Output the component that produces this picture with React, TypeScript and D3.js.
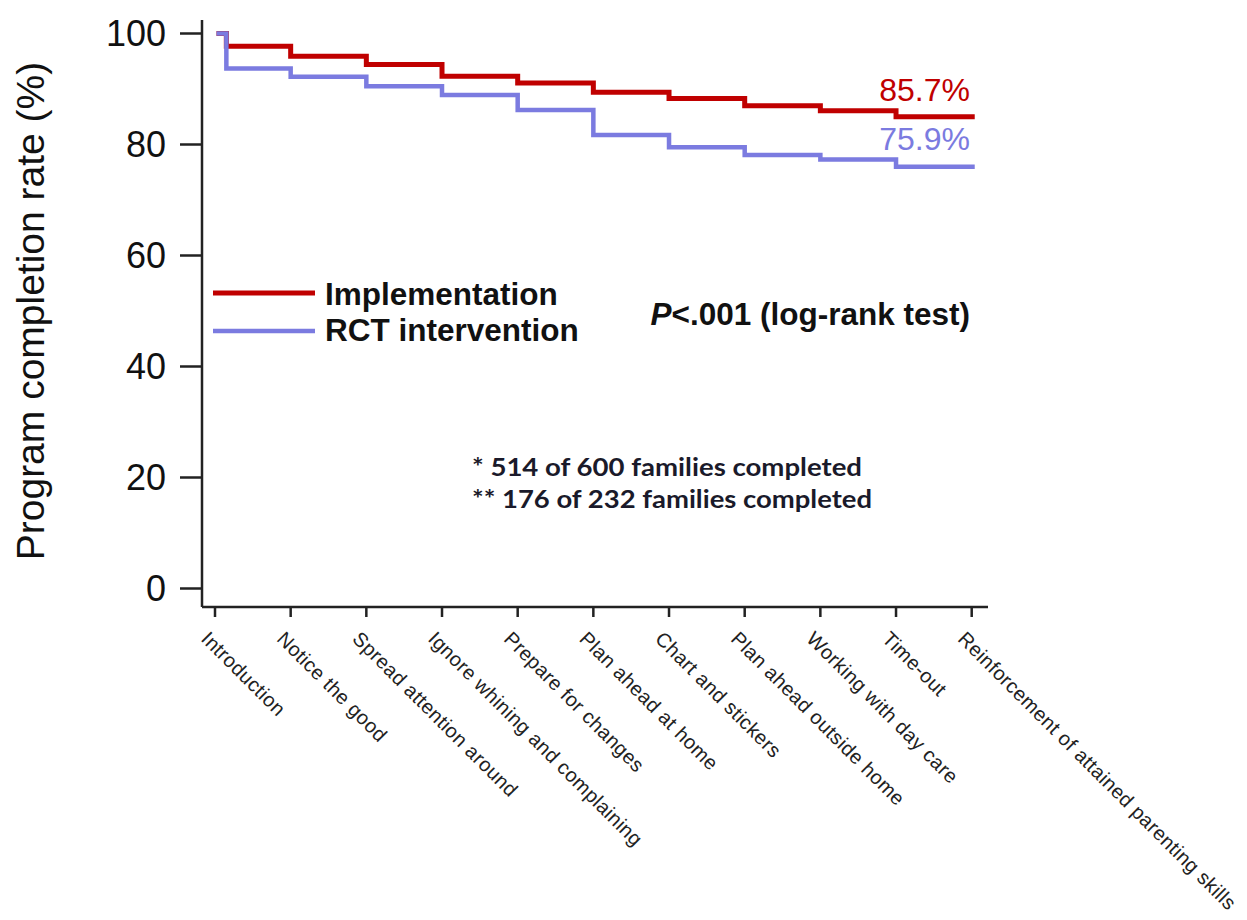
import React from "react";
import * as d3 from "d3";

const categories = [
  "Introduction",
  "Notice the good",
  "Spread attention around",
  "Ignore whining and complaining",
  "Prepare for changes",
  "Plan ahead at home",
  "Chart and stickers",
  "Plan ahead outside home",
  "Working with day care",
  "Time-out",
  "Reinforcement of attained parenting skills",
];

// step start positions (in session index units) and final end
const stepStarts = [0.02, 0.15, 1, 2, 3, 4, 5, 6, 7, 8, 9];
const stepEnd = 10.04;
const implementation = [100, 97.7, 95.9, 94.4, 92.3, 91.1, 89.4, 88.3, 87.0, 86.1, 85.0];
const rct = [100, 93.7, 92.2, 90.5, 88.9, 86.2, 81.7, 79.5, 78.1, 77.3, 76.0];
const yTicks = [0, 20, 40, 60, 80, 100];
const seriesNames = ["Implementation", "RCT intervention"];
const endLabels = ["85.7%", "75.9%"];

const RED = "#c00000";
const BLUE = "#7b7be0";
const FONT = "'Liberation Sans', Arial, sans-serif";

export default function App() {
  const x = d3.scaleLinear().domain([0, 10]).range([215, 971.7]);
  const y = d3.scaleLinear().domain([0, 100]).range([588.5, 33.5]);
  const axisX = 202;
  const axisY = 607;

  const line = d3
    .line<[number, number]>()
    .x((d) => x(d[0]))
    .y((d) => y(d[1]))
    .curve(d3.curveStepAfter);

  const pts = (vals: number[]): [number, number][] => {
    const p: [number, number][] = stepStarts.map((s, i) => [s, vals[i]]);
    p.push([stepEnd, vals[vals.length - 1]]);
    return p;
  };

  return (
    <svg
      width={1247}
      height={920}
      style={{ position: "absolute", left: 0, top: 0, background: "#fff" }}
      fontFamily={FONT}
    >
      {/* axes */}
      <line x1={axisX} y1={20} x2={axisX} y2={axisY} stroke="#222" strokeWidth={2.5} />
      <line x1={axisX} y1={axisY} x2={988} y2={axisY} stroke="#222" strokeWidth={2.5} />
      {yTicks.map((t) => (
        <g key={t}>
          <line x1={180} x2={axisX} y1={y(t)} y2={y(t)} stroke="#222" strokeWidth={2.5} />
          <text x={166} y={y(t)} dy="0.36em" textAnchor="end" fontSize={36} fill="#111">
            {t}
          </text>
        </g>
      ))}
      {categories.map((c, i) => (
        <g key={c}>
          <line x1={x(i)} x2={x(i)} y1={axisY} y2={617} stroke="#222" strokeWidth={2.5} />
          <text
            transform={`translate(${x(i) - 15},${640}) rotate(45)`}
            fontSize={20}
            letterSpacing={0.4}
            fill="#222"
          >
            {c}
          </text>
        </g>
      ))}
      <text
        transform={`translate(44,${311}) rotate(-90)`}
        textAnchor="middle"
        fontSize={39}
        fill="#111"
      >
        Program completion rate (%)
      </text>

      {/* series */}
      <path d={line(pts(implementation)) || ""} fill="none" stroke={RED} strokeWidth={5} />
      <path d={line(pts(rct)) || ""} fill="none" stroke={BLUE} strokeWidth={4.5} />

      <text x={970} y={101} textAnchor="end" fontSize={32} fill={RED}>
        {endLabels[0]}
      </text>
      <text x={970} y={150} textAnchor="end" fontSize={32} fill={BLUE}>
        {endLabels[1]}
      </text>

      {/* legend */}
      <line x1={213} x2={315} y1={293} y2={293} stroke={RED} strokeWidth={5} />
      <line x1={213} x2={315} y1={331} y2={331} stroke={BLUE} strokeWidth={4.5} />
      <text x={325} y={305} fontSize={31.5} fontWeight="bold" fill="#111">
        {seriesNames[0]}
      </text>
      <text x={325} y={341} fontSize={31.5} fontWeight="bold" fill="#111">
        {seriesNames[1]}
      </text>

      <text x={970} y={325} textAnchor="end" fontSize={31.5} fontWeight="bold" fill="#111">
        <tspan fontStyle="italic">P</tspan>
        {"<.001 (log-rank test)"}
      </text>

      <text
        x={472}
        y={476}
        fontSize={25}
        fontWeight="bold"
        fontFamily="Lato, 'Open Sans', sans-serif"
        fill="#1a1a2a"
        textLength={390}
        lengthAdjust="spacingAndGlyphs"
      >
        * 514 of 600 families completed
      </text>
      <text
        x={472}
        y={508}
        fontSize={25}
        fontWeight="bold"
        fontFamily="Lato, 'Open Sans', sans-serif"
        fill="#1a1a2a"
        textLength={400}
        lengthAdjust="spacingAndGlyphs"
      >
        ** 176 of 232 families completed
      </text>
    </svg>
  );
}
